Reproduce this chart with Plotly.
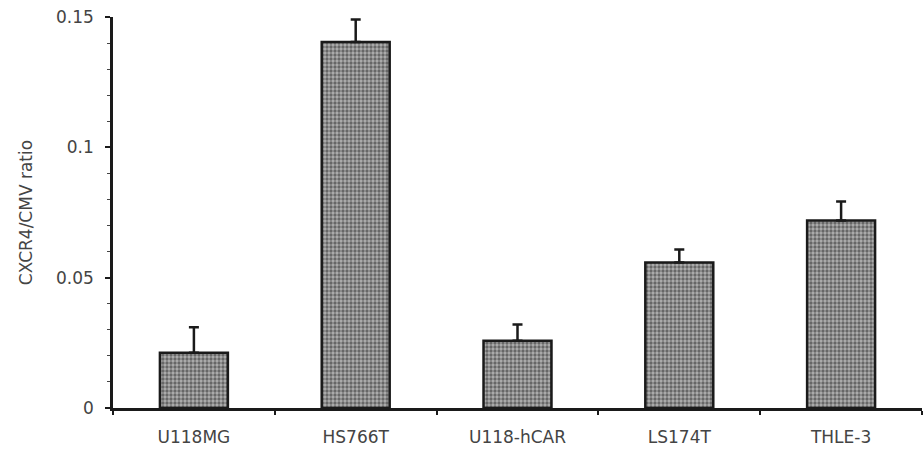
import plotly.graph_objects as go

categories = ["U118MG", "HS766T", "U118-hCAR", "LS174T", "THLE-3"]
values = [0.0212, 0.1404, 0.0258, 0.0558, 0.0719]
errors = [0.0098, 0.0086, 0.0062, 0.0050, 0.0073]
y_ticks = [0, 0.05, 0.1, 0.15]
y_tick_labels = ["0", "0.05", "0.1", "0.15"]

fig = go.Figure()
fig.add_trace(go.Bar(
    x=categories, y=values,
    width=0.42,
    marker=dict(
        color="#888888",
        line=dict(color="#1a1a1a", width=2.5),
        pattern=dict(shape=".", fgcolor="#1e1e1e", bgcolor="#b0b0b0", size=4, solidity=0.55),
    ),
    error_y=dict(type="data", array=errors, symmetric=False, arrayminus=[0]*5,
                 color="#1a1a1a", thickness=2.5, width=5),
))

fig.update_layout(
    width=924, height=456,
    margin=dict(l=113, r=2, t=17, b=48),
    paper_bgcolor="white", plot_bgcolor="white",
    showlegend=False,
    font=dict(family="DejaVu Sans", size=17, color="#444444"),
    xaxis=dict(
        showline=True, linecolor="#1a1a1a", linewidth=2.5,
        ticks="outside", tickson="boundaries", ticklen=4, tickcolor="#1a1a1a", tickwidth=1.5,
        showgrid=False, tickfont=dict(size=17, color="#444444"),
        ticklabelstandoff=12,
    ),
    yaxis=dict(
        range=[0, 0.15],
        tickvals=y_ticks, ticktext=y_tick_labels,
        showline=True, linecolor="#1a1a1a", linewidth=2.5,
        ticks="outside", ticklen=5, tickcolor="#1a1a1a", tickwidth=1.5,
        minor=dict(dtick=0.01, ticks="outside", ticklen=3, tickcolor="#444", tickwidth=1),
        showgrid=False, zeroline=False,
        ticklabelstandoff=8,
        title=dict(text="CXCR4/CMV ratio", font=dict(size=17, color="#444444"), standoff=20),
        tickfont=dict(size=17, color="#444444"),
    ),
)

fig.write_html("out.html")
